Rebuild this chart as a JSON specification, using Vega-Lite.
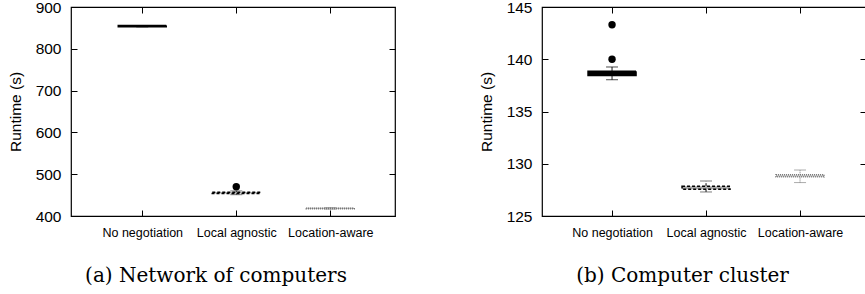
{
  "$schema": "https://vega.github.io/schema/vega-lite/v6.json",
  "padding": {"left": 7, "top": -1, "right": 0, "bottom": 0},
  "background": "white",
  "datasets": {
    "stats": [
      {"panel": "a", "method": "No negotiation", "lo": 852.5, "q1": 852.5, "med": 854, "q3": 855.5, "hi": 855.5},
      {"panel": "a", "method": "Local agnostic", "lo": 451, "q1": 454, "med": 455.5, "q3": 457, "hi": 460},
      {"panel": "a", "method": "Location-aware", "lo": 416.5, "q1": 417.5, "med": 418.2, "q3": 419, "hi": 420},
      {"panel": "b", "method": "No negotiation", "lo": 138.04, "q1": 138.45, "med": 138.65, "q3": 138.85, "hi": 139.26},
      {"panel": "b", "method": "Local agnostic", "lo": 127.3, "q1": 127.55, "med": 127.7, "q3": 127.85, "hi": 128.35},
      {"panel": "b", "method": "Location-aware", "lo": 128.2, "q1": 128.75, "med": 128.86, "q3": 128.95, "hi": 129.4}
    ],
    "outliers": [
      {"panel": "a", "method": "Local agnostic", "value": 470},
      {"panel": "b", "method": "No negotiation", "value": 140.0},
      {"panel": "b", "method": "No negotiation", "value": 143.3}
    ]
  },
  "spacing": 81,
  "hconcat": [
    {
      "width": 324,
      "height": 209,
      "layer": [
        {
          "data": {"name": "stats"},
          "transform": [{"filter": "datum.panel === 'a'"}],
          "mark": {"type": "rule", "strokeWidth": 1},
          "encoding": {
            "x": {"field": "method", "type": "nominal", "sort": ["No negotiation", "Local agnostic", "Location-aware"], "scale": {"type": "point", "padding": 0.7234, "align": 0.524},
              "axis": {"orient": "bottom", "title": "(a) Network of computers", "titleX": 144.5, "titleY": 71, "titleBaseline": "alphabetic", "titleAnchor": null, "titleAlign": "center", "labelAngle": 0}},
            "y": {"field": "lo", "type": "quantitative", "scale": {"domain": [400, 900], "nice": false, "zero": false},
              "axis": {"orient": "left", "title": "Runtime (s)", "values": [400, 500, 600, 700, 800, 900], "titlePadding": 12}},
            "y2": {"field": "q1"},
            "stroke": {"field": "method", "type": "nominal", "scale": {"domain": ["No negotiation", "Local agnostic", "Location-aware"], "range": ["black", "black", "#777777"]}, "legend": null},
            "strokeDash": {"field": "method", "type": "nominal", "scale": {"domain": ["No negotiation", "Local agnostic", "Location-aware"], "range": [[1, 0], [3, 2], [1, 1]]}, "legend": null}
          }
        },
        {
          "data": {"name": "stats"},
          "transform": [{"filter": "datum.panel === 'a'"}],
          "mark": {"type": "rule", "strokeWidth": 1},
          "encoding": {
            "x": {"field": "method", "type": "nominal", "sort": ["No negotiation", "Local agnostic", "Location-aware"],
              "axis": {"orient": "top", "title": null, "labels": false}},
            "y": {"field": "q3", "type": "quantitative",
              "axis": {"orient": "right", "title": null, "labels": false, "values": [400, 500, 600, 700, 800, 900]}},
            "y2": {"field": "hi"},
            "stroke": {"field": "method", "type": "nominal", "legend": null},
            "strokeDash": {"field": "method", "type": "nominal", "legend": null}
          }
        },
        {
          "data": {"name": "stats"},
          "transform": [{"filter": "datum.panel === 'a'"}],
          "mark": {"type": "tick", "size": 12, "thickness": 1},
          "encoding": {
            "x": {"field": "method", "type": "nominal", "sort": ["No negotiation", "Local agnostic", "Location-aware"], "axis": null},
            "y": {"field": "lo", "type": "quantitative", "axis": null},
            "color": {"field": "method", "type": "nominal", "scale": {"domain": ["No negotiation", "Local agnostic", "Location-aware"], "range": ["black", "#444444", "#888888"]}, "legend": null}
          }
        },
        {
          "data": {"name": "stats"},
          "transform": [{"filter": "datum.panel === 'a'"}],
          "mark": {"type": "tick", "size": 12, "thickness": 1},
          "encoding": {
            "x": {"field": "method", "type": "nominal", "sort": ["No negotiation", "Local agnostic", "Location-aware"], "axis": null},
            "y": {"field": "hi", "type": "quantitative", "axis": null},
            "color": {"field": "method", "type": "nominal", "legend": null}
          }
        },
        {
          "data": {"name": "stats"},
          "transform": [{"filter": "datum.panel === 'a'"}],
          "mark": {"type": "bar", "size": 48, "strokeWidth": 1.5},
          "encoding": {
            "x": {"field": "method", "type": "nominal", "sort": ["No negotiation", "Local agnostic", "Location-aware"], "axis": null},
            "y": {"field": "q1", "type": "quantitative", "axis": null},
            "y2": {"field": "q3"},
            "fill": {"field": "method", "type": "nominal", "scale": {"domain": ["No negotiation", "Local agnostic", "Location-aware"], "range": ["black", "#aaaaaa", "#d0d0d0"]}, "legend": null},
            "stroke": {"field": "method", "type": "nominal", "legend": null},
            "strokeDash": {"field": "method", "type": "nominal", "legend": null}
          }
        },
        {
          "data": {"name": "outliers"},
          "transform": [{"filter": "datum.panel === 'a'"}],
          "mark": {"type": "point", "filled": true, "size": 55, "color": "black", "opacity": 1},
          "encoding": {
            "x": {"field": "method", "type": "nominal", "sort": ["No negotiation", "Local agnostic", "Location-aware"], "axis": null},
            "y": {"field": "value", "type": "quantitative", "axis": null}
          }
        }
      ],
      "resolve": {"axis": {"x": "independent", "y": "independent"}}
    },
    {
      "width": 324,
      "height": 209,
      "layer": [
        {
          "data": {"name": "stats"},
          "transform": [{"filter": "datum.panel === 'b'"}],
          "mark": {"type": "rule", "strokeWidth": 1},
          "encoding": {
            "x": {"field": "method", "type": "nominal", "sort": ["No negotiation", "Local agnostic", "Location-aware"], "scale": {"type": "point", "padding": 0.7234, "align": 0.515},
              "axis": {"orient": "bottom", "title": "(b) Computer cluster", "titleX": 140, "titleY": 71, "titleBaseline": "alphabetic", "titleAnchor": null, "titleAlign": "center", "labelAngle": 0}},
            "y": {"field": "lo", "type": "quantitative", "scale": {"domain": [125, 145], "nice": false, "zero": false},
              "axis": {"orient": "left", "title": "Runtime (s)", "values": [125, 130, 135, 140, 145], "titlePadding": 12}},
            "y2": {"field": "q1"},
            "stroke": {"field": "method", "type": "nominal", "scale": {"domain": ["No negotiation", "Local agnostic", "Location-aware"], "range": ["black", "black", "#777777"]}, "legend": null},
            "strokeDash": {"field": "method", "type": "nominal", "scale": {"domain": ["No negotiation", "Local agnostic", "Location-aware"], "range": [[1, 0], [3, 2], [1, 1]]}, "legend": null}
          }
        },
        {
          "data": {"name": "stats"},
          "transform": [{"filter": "datum.panel === 'b'"}],
          "mark": {"type": "rule", "strokeWidth": 1},
          "encoding": {
            "x": {"field": "method", "type": "nominal", "sort": ["No negotiation", "Local agnostic", "Location-aware"],
              "axis": {"orient": "top", "title": null, "labels": false}},
            "y": {"field": "q3", "type": "quantitative",
              "axis": {"orient": "right", "title": null, "labels": false, "values": [125, 130, 135, 140, 145]}},
            "y2": {"field": "hi"},
            "stroke": {"field": "method", "type": "nominal", "legend": null},
            "strokeDash": {"field": "method", "type": "nominal", "legend": null}
          }
        },
        {
          "data": {"name": "stats"},
          "transform": [{"filter": "datum.panel === 'b'"}],
          "mark": {"type": "tick", "size": 12, "thickness": 1},
          "encoding": {
            "x": {"field": "method", "type": "nominal", "sort": ["No negotiation", "Local agnostic", "Location-aware"], "axis": null},
            "y": {"field": "lo", "type": "quantitative", "axis": null},
            "color": {"field": "method", "type": "nominal", "scale": {"domain": ["No negotiation", "Local agnostic", "Location-aware"], "range": ["black", "#444444", "#888888"]}, "legend": null}
          }
        },
        {
          "data": {"name": "stats"},
          "transform": [{"filter": "datum.panel === 'b'"}],
          "mark": {"type": "tick", "size": 12, "thickness": 1},
          "encoding": {
            "x": {"field": "method", "type": "nominal", "sort": ["No negotiation", "Local agnostic", "Location-aware"], "axis": null},
            "y": {"field": "hi", "type": "quantitative", "axis": null},
            "color": {"field": "method", "type": "nominal", "legend": null}
          }
        },
        {
          "data": {"name": "stats"},
          "transform": [{"filter": "datum.panel === 'b'"}],
          "mark": {"type": "bar", "size": 48, "strokeWidth": 1.5},
          "encoding": {
            "x": {"field": "method", "type": "nominal", "sort": ["No negotiation", "Local agnostic", "Location-aware"], "axis": null},
            "y": {"field": "q1", "type": "quantitative", "axis": null},
            "y2": {"field": "q3"},
            "fill": {"field": "method", "type": "nominal", "scale": {"domain": ["No negotiation", "Local agnostic", "Location-aware"], "range": ["black", "#aaaaaa", "#d0d0d0"]}, "legend": null},
            "stroke": {"field": "method", "type": "nominal", "legend": null},
            "strokeDash": {"field": "method", "type": "nominal", "legend": null}
          }
        },
        {
          "data": {"name": "outliers"},
          "transform": [{"filter": "datum.panel === 'b'"}],
          "mark": {"type": "point", "filled": true, "size": 55, "color": "black", "opacity": 1},
          "encoding": {
            "x": {"field": "method", "type": "nominal", "sort": ["No negotiation", "Local agnostic", "Location-aware"], "axis": null},
            "y": {"field": "value", "type": "quantitative", "axis": null}
          }
        }
      ],
      "resolve": {"axis": {"x": "independent", "y": "independent"}}
    }
  ],
  "config": {
    "font": "Liberation Sans",
    "view": {"stroke": "black", "strokeWidth": 1.2},
    "axis": {
      "domain": false,
      "grid": false,
      "ticks": true,
      "tickSize": 6,
      "offset": -6,
      "labelPadding": 10,
      "tickColor": "black",
      "tickWidth": 1,
      "labelColor": "black",
      "labelFont": "Liberation Sans",
      "titleColor": "black",
      "titleFontWeight": "normal"
    },
    "axisX": {"labelFontSize": 12.5, "titleFont": "DejaVu Serif", "titleFontSize": 20},
    "axisY": {"labelFontSize": 15.5, "titleFont": "Liberation Sans", "titleFontSize": 15.5}
  }
}
